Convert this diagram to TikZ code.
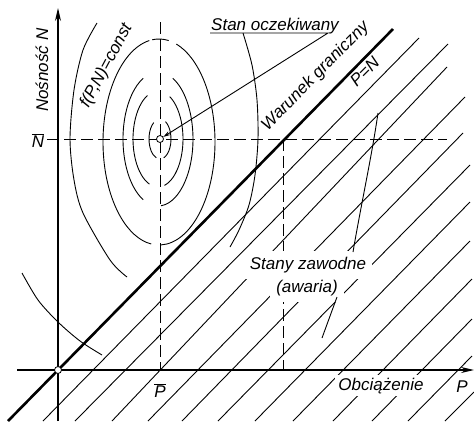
\documentclass[tikz,border=0pt]{standalone}
\usepackage{fontspec}
\setmainfont{Liberation Sans}
\usetikzlibrary{arrows.meta}
\newcommand\ellarc[5]{\draw[ln] ([shift={(#4:#2 and #3)}]#1) arc[start angle=#4,end angle=#5,x radius=#2,y radius=#3];}
\begin{document}
\begin{tikzpicture}[x=1pt,y=1pt,
  ln/.style={line width=0.9pt},
  heavy/.style={line width=2.6pt},
  axisln/.style={line width=1.2pt},
  dsh/.style={line width=0.9pt,dash pattern=on 12pt off 5pt},
  lbl/.style={font=\fontsize{17}{19}\selectfont\itshape,inner sep=1pt},
  blank/.style={lbl,fill=white,inner sep=6pt},
  dot/.style={circle,draw,fill=white,line width=0.8pt,inner sep=0pt,minimum size=7pt},
  axarrow/.style={-{Stealth[length=13pt,width=6pt]}},
  ldarrow/.style={-{Stealth[length=7pt,width=4pt]}}]
\useasboundingbox (0,0) rectangle (474,-421);

% hatch lines (failure region)
\foreach \bx/\by/\tx/\ty in {43/421/419/38, 75/421/448/44, 112/421/447/67, 148/421/465/97,
  182/421/463/133, 218/421/470/165, 255/421/470/202, 293/421/470/241,
  333/421/472/279, 372/421/472/319, 408/421/472/356, 445/421/474/392}
  \draw[ln] (\bx,-\by) -- (\tx,-\ty);

% contours f(P,N)=const
\ellarc{160,-139}{11}{20}{125}{250}
\ellarc{160,-139}{11}{20}{-70}{60}
\ellarc{158,-139}{25}{48}{115}{250}
\ellarc{158,-139}{25}{48}{-75}{62}
\ellarc{158,-139}{35}{67}{115}{245}
\ellarc{158,-139}{35}{67}{-85}{65}
\ellarc{159,-142}{56}{103}{100}{262}
\ellarc{159,-142}{56}{103}{-88}{72}
\ellarc{159,-142}{56}{103}{80}{97}
\draw[ln] plot[smooth] coordinates {(97,-23) (83,-50) (74,-90) (70,-139) (74,-180) (83,-213) (110,-260) (127,-277)};
\draw[ln] plot[smooth] coordinates {(243,-33) (252,-65) (257,-100) (258,-139) (255,-175) (249,-205) (239,-230) (230,-247)};
\draw[ln] plot[smooth] coordinates {(22,-273) (38,-300) (58,-322) (80,-341) (102,-355)};

% key points
\coordinate (M0) at (160,-139);
\coordinate (O0) at (58,-370);
\coordinate (K) at (283,-139);
\coordinate (K1) at (283,-370);
\coordinate (NL) at (47,-139);
\coordinate (NR) at (447,-139);
\coordinate (PT) at (160,-22);
\coordinate (PB0) at (160,-370);

% dashed reference lines
\draw[dsh] (NL) -- (NR);
\draw[dsh] (PT) -- (PB0);
\draw[dsh] (K) -- (K1);

% labels that blank the hatching
\node[blank,anchor=base] (SZ) at (308,-269) {Stany zawodne};
\node[blank,anchor=base] (AW) at (307,-292) {(awaria)};
\node[lbl,fill=white,inner sep=3pt,anchor=base] (OB) at (381,-390) {Obciążenie};
\node[lbl,fill=white,inner sep=2pt,anchor=base] (PB) at (160,-397) {$\overline{\mbox{P}}$};
\node[lbl,fill=white,inner sep=2pt,anchor=base] (PX) at (462,-392) {P};

% limit state line
\coordinate (G1) at (8,-421);
\coordinate (G2) at (393,-29);
\draw[heavy] (G1) -- (G2);

% axes
\coordinate (YB) at (58,-421);
\coordinate (YT) at (58,-8);
\coordinate (XL) at (17,-370);
\coordinate (XR) at (474,-370);
\draw[axisln,axarrow] (YB) -- (YT);
\draw[axisln,axarrow] (XL) -- (XR);

% points
\node[dot] (M) at (M0) {};
\node[dot] (O) at (O0) {};

% leaders
\coordinate (U1) at (210,-33);
\coordinate (U2) at (328,-33);
\draw[ln,ldarrow] (U1) -- (U2) -- (M);
\coordinate (LZ1) at (353,-252);
\coordinate (LZ2) at (378,-113);
\draw[ln] (LZ1) .. controls (361,-205) and (372,-155) .. (LZ2);
\coordinate (LA1) at (337,-297);
\coordinate (LA2) at (322,-338);
\draw[ln] (LA1) -- (LA2);

% other labels
\node[lbl,anchor=base west] (SO) at (210,-30) {Stan oczekiwany};
\node[lbl,anchor=base west,rotate=45.5] (WG) at (267,-132) {Warunek graniczny};
\node[lbl,anchor=base west,rotate=45] (PN) at (356,-88) {P=N};
\node[lbl,anchor=base west,rotate=62] (FC) at (88,-110) {f(P,N)=const};
\node[lbl,anchor=base west,rotate=90] (NN) at (48,-113) {Nośność N};
\node[lbl,anchor=base] (NB) at (38,-147) {$\overline{\mbox{N}}$};
\end{tikzpicture}
\end{document}
